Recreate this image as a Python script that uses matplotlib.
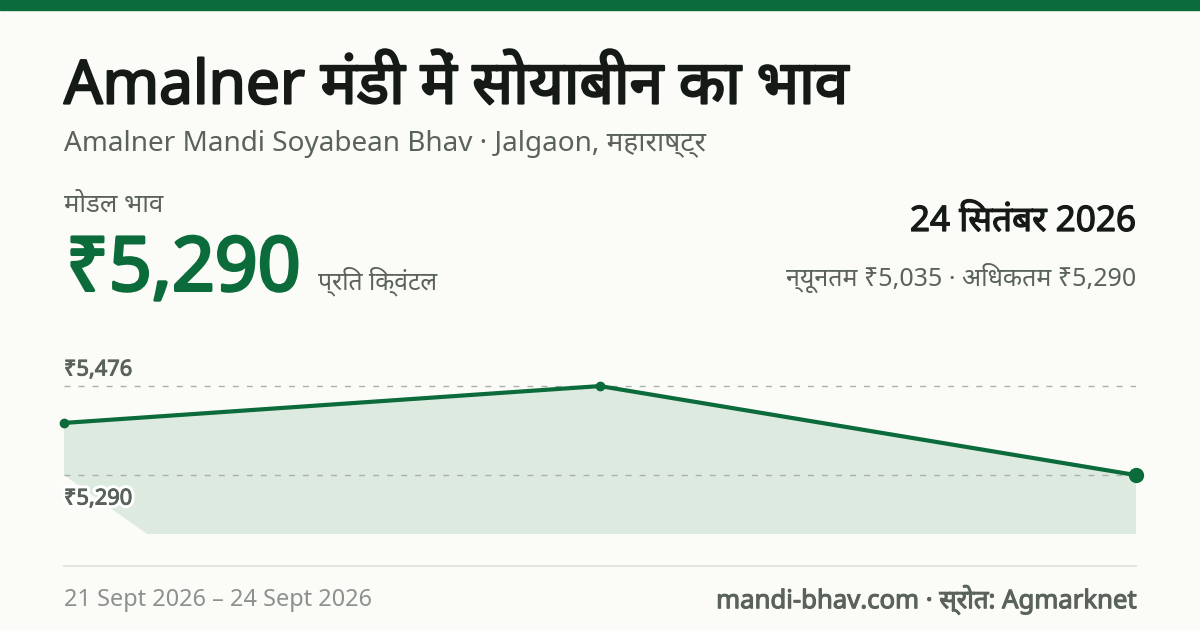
import re
import matplotlib
matplotlib.use("Agg")
import matplotlib.pyplot as plt
import matplotlib.patheffects as pe

GREEN = "#0b6b3a"
INK = "#161a17"
GREY = "#5a625c"
BG = "#fbfcf8"

# three reports, evenly spaced on the x axis
points = [0, 1, 2]
prices = [5399, 5476, 5290]
ref_prices = [5476, 5290]
ref_labels = ["₹5,476", "₹5,290"]
# lower edge of the shaded area
edge_x = [0, 0.155, 2]
edge_y = [5290, 5167, 5167]

plt.rcParams["font.family"] = ["Noto Sans", "DejaVu Sans"]

# matplotlib does no Devanagari shaping, so put the i-matra in front of its cluster
def deva(s):
    return re.sub("((?:[क-ह]्)*[क-ह])ि", "ि\\1", s)

def put(x, y, s, size, color=GREY, bold=0, ha="left", halo=False):
    effects = []
    if halo:
        effects.append(pe.withStroke(linewidth=5, foreground="#ffffff"))
    # no bold face is installed for Noto Sans, thicken the outline instead
    if bold:
        effects.append(pe.withStroke(linewidth=bold, foreground=color))
    fig.text(x / 1200, 1 - y / 630, deva(s), fontsize=size, color=color, va="center", ha=ha, path_effects=effects)

fig = plt.figure(figsize=(12, 6.3), dpi=100, facecolor=BG)

# top band
fig.patches.append(plt.Rectangle((0, 1 - 10 / 630), 1, 10 / 630, transform=fig.transFigure, color=GREEN))

put(64, 88, "Amalner मंडी में सोयाबीन का भाव", 43.5, INK, bold=1.6)
put(64, 144, "Amalner Mandi Soyabean Bhav · Jalgaon, महाराष्ट्र", 20.1)
put(64, 205, "मोडल भाव", 18.6)
put(66, 271, "₹5,290", 54, GREEN, bold=2.2)
put(318, 281, "प्रति क्विंटल", 17.8)
put(1136, 222, "24 सितंबर 2026", 25.3, INK, bold=0.9, ha="right")
put(1136, 278, "न्यूनतम ₹5,035 · अधिकतम ₹5,290", 18, ha="right")

ax = fig.add_axes([64 / 1200, 1 - 534 / 630, 1072 / 1200, 180 / 630])
ax.set_xlim(points[0], points[-1])
ax.set_ylim(5167, 5543)
ax.axis("off")
ax.fill(points + edge_x[::-1], prices + edge_y[::-1], color=GREEN, alpha=0.12, lw=0)
for p in ref_prices:
    ax.axhline(p, color="#adb0aa", lw=1, ls=(0, (4.3, 5.8)))
ax.plot(points, prices, color=GREEN, lw=3, clip_on=False)
ax.plot(points[:-1], prices[:-1], "o", color=GREEN, ms=6, clip_on=False)
ax.plot(points[-1:], prices[-1:], "o", color=GREEN, ms=10, clip_on=False)

put(64, 370, ref_labels[0], 15.7, bold=0.7)
put(64, 499, ref_labels[1], 15.7, bold=0.7, halo=True)

fig.add_artist(plt.Line2D([64 / 1200, 1136 / 1200], [1 - 566 / 630] * 2, color="#e3e5e0", lw=1.5))
put(64, 600, "21 Sept 2026 – 24 Sept 2026", 16.9, "#8b918c")
put(1136, 600, "mandi-bhav.com · स्रोत: Agmarknet", 18.5, bold=0.8, ha="right")

fig.savefig("out.png", dpi=100, facecolor=fig.get_facecolor())
